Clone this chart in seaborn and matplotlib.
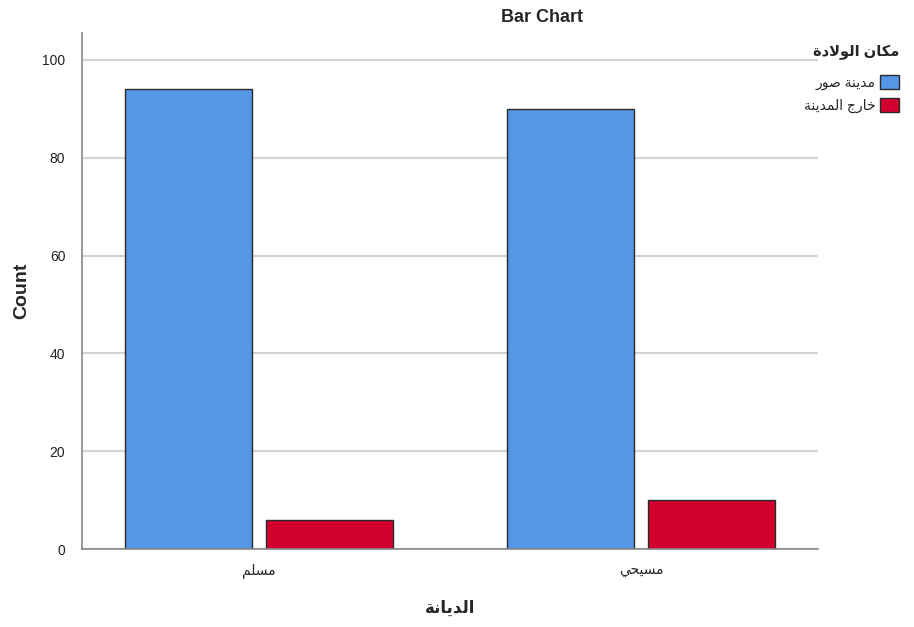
import pandas as pd
import matplotlib
matplotlib.use('Agg')
import matplotlib.pyplot as plt
import seaborn as sns

# data
religions = ['مسلم', 'مسيحي']
birthplaces = ['مدينة صور', 'خارج المدينة']
counts_tyre = [94, 90]
counts_outside = [6, 10]
bar_colors = ['#5596e6', '#d2002e']

# matplotlib has no arabic shaping, so map letters to presentation forms
# (isolated, final, initial, medial) and reverse for display
FORMS = {
    'ا': ('\uFE8D', '\uFE8E', None, None),
    'ة': ('\uFE93', '\uFE94', None, None),
    'ج': ('\uFE9D', '\uFE9E', '\uFE9F', '\uFEA0'),
    'ح': ('\uFEA1', '\uFEA2', '\uFEA3', '\uFEA4'),
    'خ': ('\uFEA5', '\uFEA6', '\uFEA7', '\uFEA8'),
    'د': ('\uFEA9', '\uFEAA', None, None),
    'ر': ('\uFEAD', '\uFEAE', None, None),
    'س': ('\uFEB1', '\uFEB2', '\uFEB3', '\uFEB4'),
    'ص': ('\uFEB9', '\uFEBA', '\uFEBB', '\uFEBC'),
    'ك': ('\uFED9', '\uFEDA', '\uFEDB', '\uFEDC'),
    'ل': ('\uFEDD', '\uFEDE', '\uFEDF', '\uFEE0'),
    'م': ('\uFEE1', '\uFEE2', '\uFEE3', '\uFEE4'),
    'ن': ('\uFEE5', '\uFEE6', '\uFEE7', '\uFEE8'),
    'و': ('\uFEED', '\uFEEE', None, None),
    'ي': ('\uFEF1', '\uFEF2', '\uFEF3', '\uFEF4'),
}


def shape(text):
    out = []
    i = 0
    n = len(text)
    while i < n:
        c = text[i]
        if c not in FORMS:
            out.append(c)
            i += 1
            continue
        prev = text[i - 1] if i > 0 else ''
        joins_prev = prev in FORMS and FORMS[prev][2] is not None
        if c == 'ل' and i + 1 < n and text[i + 1] == 'ا':
            out.append('\uFEFC' if joins_prev else '\uFEFB')
            i += 2
            continue
        nxt = text[i + 1] if i + 1 < n else ''
        joins_next = FORMS[c][2] is not None and nxt in FORMS
        if joins_prev and joins_next:
            out.append(FORMS[c][3])
        elif joins_prev:
            out.append(FORMS[c][1])
        elif joins_next:
            out.append(FORMS[c][2])
        else:
            out.append(FORMS[c][0])
        i += 1
    return ''.join(reversed(out))


df = pd.DataFrame({
    'religion': religions * 2,
    'birthplace': [birthplaces[0]] * 2 + [birthplaces[1]] * 2,
    'count': counts_tyre + counts_outside,
})

sns.set_style('white')
plt.rcParams['font.family'] = ['Liberation Sans', 'DejaVu Sans']

fig = plt.figure(figsize=(9.14, 6.27), dpi=100)
ax = fig.add_axes([0.0897, 0.1244, 0.8053, 0.8230])

sns.barplot(data=df, x='religion', y='count', hue='birthplace',
            palette=bar_colors, saturation=1, width=0.74, gap=0.1,
            edgecolor='#2a2a2a', linewidth=1.0, ax=ax, legend=True)

ax.set_xlim(-0.463, 1.463)
ax.set_ylim(0, 105.5)
ax.set_yticks([0, 20, 40, 60, 80, 100])
ax.yaxis.grid(True, color='#d4d4d4', linewidth=1.6)
ax.set_axisbelow(True)
for side in ['top', 'right']:
    ax.spines[side].set_visible(False)
for side in ['left', 'bottom']:
    ax.spines[side].set_color('#888888')
    ax.spines[side].set_linewidth(1.2)
ax.tick_params(axis='both', length=0, labelsize=10, colors='#222222', pad=12)
ax.set_xticks(range(len(religions)))
ax.set_xticklabels([shape(r) for r in religions])
ax.tick_params(axis='x', pad=10)
ax.set_xlabel('')
ax.set_ylabel('')

fig.text(542 / 914, 1 - 17 / 627, 'Bar Chart', ha='center', va='center',
         fontsize=13, fontweight='bold')
fig.text(22 / 914, 1 - 291 / 627, 'Count', ha='center', va='center',
         rotation=90, fontsize=14, fontweight='bold')
fig.text(450 / 914, 1 - 608 / 627, shape('الديانة'), ha='center', va='center',
         fontsize=12, fontweight='bold')

handles, _ = ax.get_legend_handles_labels()
ax.get_legend().remove()
leg = fig.legend(handles, [shape(b) for b in birthplaces],
                 title=shape('مكان الولادة'), loc='upper right',
                 bbox_to_anchor=(912 / 914, 1 - 32 / 627),
                 markerfirst=False, frameon=False, fontsize=10,
                 title_fontproperties={'weight': 'bold', 'size': 10.5},
                 alignment='right', handlelength=1.4, handleheight=1.2,
                 handletextpad=0.3, labelspacing=0.55)
leg._legend_box.sep = 11

fig.savefig('out.png', dpi=100)
